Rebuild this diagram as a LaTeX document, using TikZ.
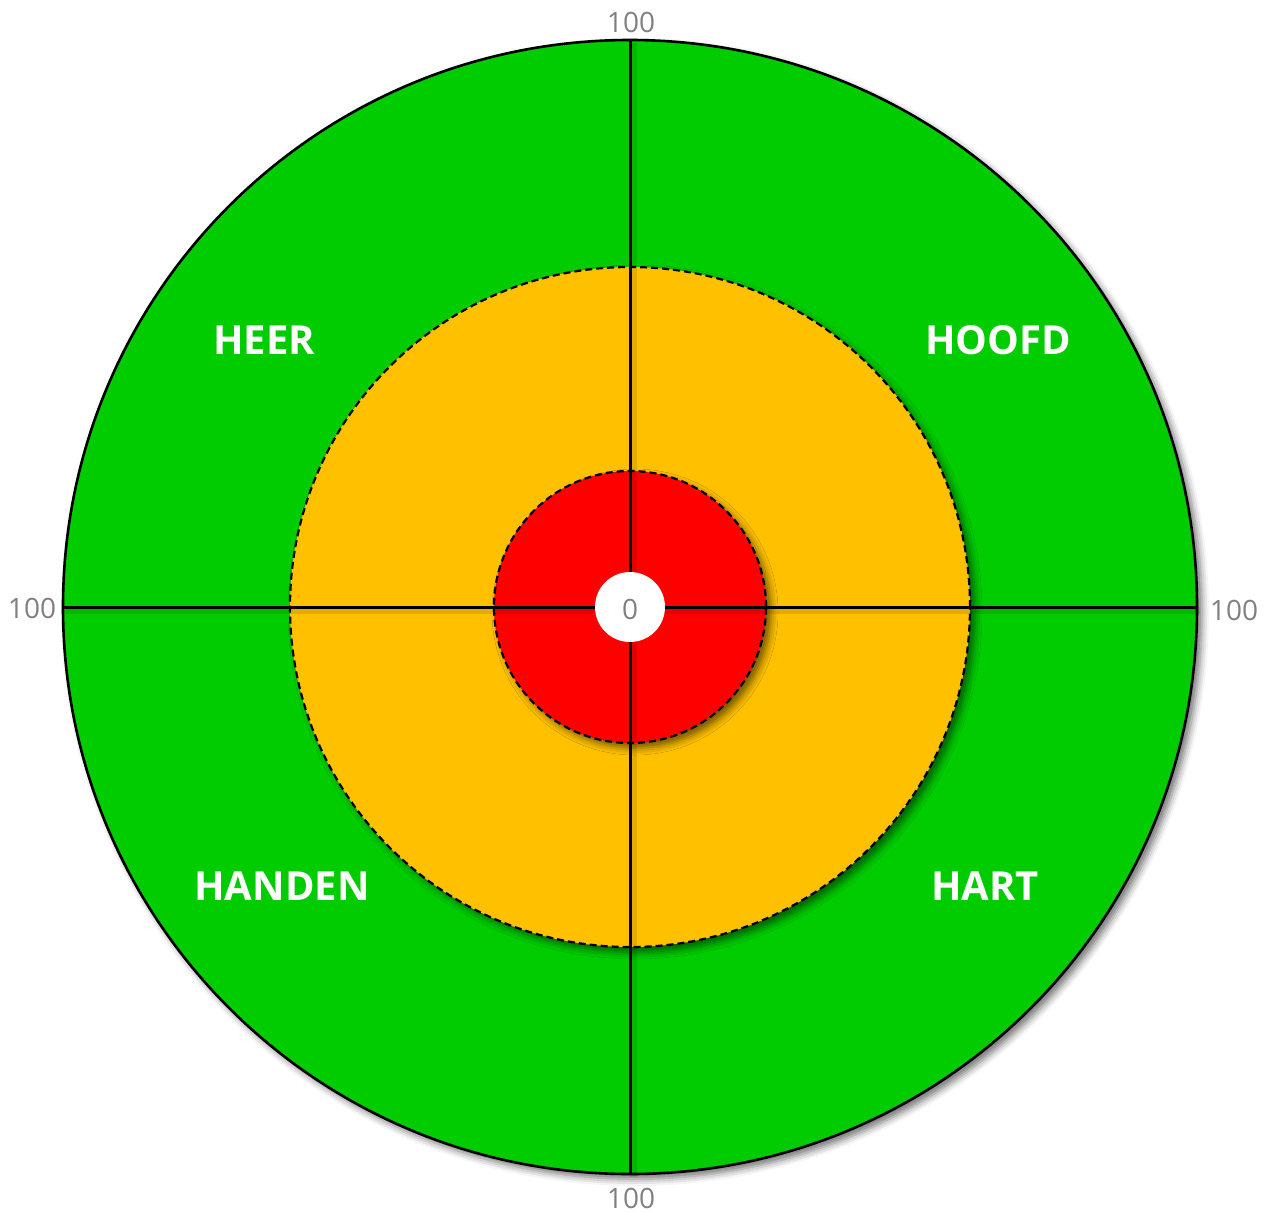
\documentclass[tikz,border=0pt]{standalone}
\usepackage{fontspec}
\setmainfont{Open Sans}
\usetikzlibrary{shadows.blur}
\definecolor{tgreen}{HTML}{00CC00}
\definecolor{torange}{HTML}{FFC000}
\definecolor{tred}{HTML}{FF0000}
\definecolor{tgrey}{HTML}{808080}
\tikzset{
  ring/.style={circle, inner sep=0pt, outer sep=0pt, blur shadow={shadow xshift=5pt, shadow yshift=-5pt, shadow blur radius=7pt, shadow opacity=55}},
  dashring/.style={ring, draw=black, line width=2.2pt, dash pattern=on 7pt off 4pt},
  axisline/.style={line width=3pt, black},
  axisshadow/.style={line width=7pt, black, opacity=0.10},
  scalelabel/.style={text=tgrey, font=\fontsize{28}{30}\selectfont, inner sep=1pt},
  quad/.style={text=white, font=\bfseries\fontsize{40}{44}\selectfont, inner sep=1pt},
  quadglow/.style={fill=black, opacity=0.10, rounded corners=6pt, minimum height=36pt},
}
\begin{document}
\begin{tikzpicture}[x=1pt,y=-1pt]
\useasboundingbox (0,0) rectangle (1269,1213);
\coordinate (c) at (630,607);
\node[ring, fill=tgreen, draw=black, line width=2.6pt, minimum size=1134pt] (outer) at (c) {};
\node[dashring, fill=torange, minimum size=680pt] (mid) at (c) {};
\node[dashring, fill=tred, minimum size=272pt] (inner) at (c) {};
% axis shadows
\draw[axisshadow] ([xshift=3pt,yshift=-3pt]outer.west) -- ([xshift=3pt,yshift=-3pt]outer.east);
\draw[axisshadow] ([xshift=3pt,yshift=-3pt]outer.north) -- ([xshift=3pt,yshift=-3pt]outer.south);
% axes
\draw[axisline] (outer.west) -- (outer.east);
\draw[axisline] (outer.north) -- (outer.south);
\node[circle, fill=white, inner sep=0pt, minimum size=70pt] (hub) at (c) {};
\node[scalelabel] (zero) at (630,609) {0};
% scale labels
\node[scalelabel] (ltop) at (631,22) {100};
\node[scalelabel] (lbot) at (631,1198) {100};
\node[scalelabel] (lleft) at (32,608) {100};
\node[scalelabel] (lright) at (1234,610) {100};
% quadrant labels
\node[quad] (heer) at (264,340) {HEER};
\node[quad] (hoofd) at (998,340) {HOOFD};
\node[quad] (handen) at (282,886) {HANDEN};
\node[quad] (hart) at (985,886) {HART};
\end{tikzpicture}
\end{document}
